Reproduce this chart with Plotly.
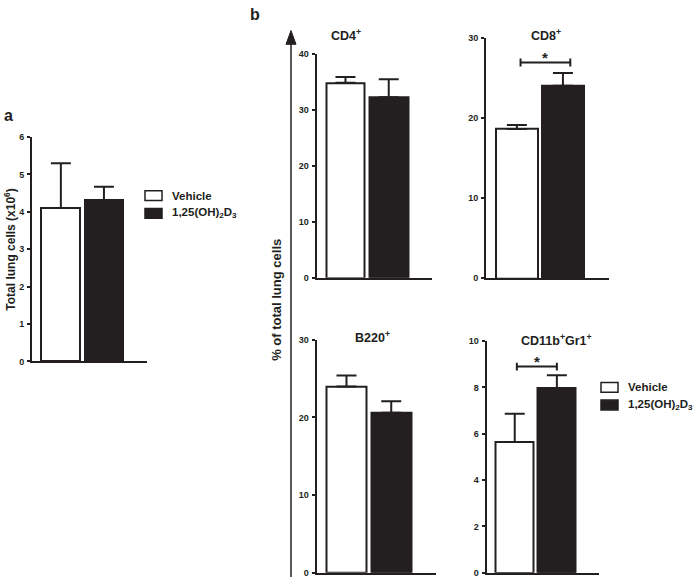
import plotly.graph_objects as go

# ---------------- data ----------------
groups = ["Vehicle", "1,25(OH)<sub>2</sub>D<sub>3</sub>"]

total_cells_mean = [4.10, 4.31]
total_cells_err = [1.20, 0.36]

panel_titles = ["CD4<sup>+</sup>", "CD8<sup>+</sup>", "B220<sup>+</sup>", "CD11b<sup>+</sup>Gr1<sup>+</sup>"]
cd4_mean = [34.9, 32.3]
cd4_err = [1.0, 3.2]
cd8_mean = [18.6, 24.0]
cd8_err = [0.5, 1.6]
b220_mean = [24.0, 20.6]
b220_err = [1.4, 1.5]
cd11b_mean = [5.64, 7.96]
cd11b_err = [1.22, 0.57]

sig_cd8 = 26.9
sig_cd11b = 8.9

W, H = 697, 582
INK = "#231f20"
FONT = "Liberation Sans, Arial, sans-serif"


def px(x):
    return x / W


def py(y):
    return 1 - y / H


fig = go.Figure()

# panel geometry in pixels: (x_left, x_right, y_top, y_bottom, ymax, dtick)
panels = [
    (32, 147, 134.3, 362.7, 6, 1, total_cells_mean, total_cells_err),
    (316.5, 432, 50, 277.5, 40, 10, cd4_mean, cd4_err),
    (486, 609, 33.3, 278, 30, 10, cd8_mean, cd8_err),
    (316.5, 436, 340.7, 577.7, 30, 10, b220_mean, b220_err),
    (486.5, 599, 342, 577.7, 10, 2, cd11b_mean, cd11b_err),
]

fills = ["white", INK]
xpos = [0, 1]

for i, (xl, xr, yt, yb, ymax, dt, means, errs) in enumerate(panels):
    k = "" if i == 0 else str(i + 1)
    for j in range(2):
        fig.add_trace(go.Bar(
            x=[xpos[j]], y=[means[j]], width=0.9,
            marker=dict(color=fills[j], line=dict(color=INK, width=2)),
            error_y=dict(type="data", symmetric=False, array=[errs[j]], arrayminus=[0],
                         color=INK, thickness=2, width=10),
            xaxis="x" + k, yaxis="y" + k, showlegend=False, name=groups[j],
            hoverinfo="skip",
        ))
    fig.update_layout(**{
        "xaxis" + k: dict(domain=[px(xl), px(xr)], range=[-0.67, 2.0], anchor="y" + k,
                          showline=True, linecolor=INK, linewidth=2, showgrid=False,
                          zeroline=False, showticklabels=False, ticks=""),
        "yaxis" + k: dict(domain=[py(yb), py(yt)], range=[0, ymax], anchor="x" + k,
                          showline=True, linecolor=INK, linewidth=2, showgrid=False,
                          zeroline=False, ticks="outside", ticklen=3, tickwidth=1.5,
                          tickcolor=INK, dtick=dt, tick0=0, ticklabelstandoff=1,
                          tickfont=dict(family=FONT, size=9, color=INK, weight="bold")),
    })

annotations = []
shapes = []

# panel titles
title_pos = [(346, 31), (546, 31), (372, 338), (556, 341)]
for t, (x, y) in zip(panel_titles, title_pos):
    annotations.append(dict(x=px(x), y=py(y), xref="paper", yref="paper", text=t,
                            showarrow=False, font=dict(family=FONT, size=12.5, color=INK, weight="bold"),
                            xanchor="center", yanchor="middle"))

# panel letters
annotations.append(dict(x=px(2), y=py(112), xref="paper", yref="paper", text="a", showarrow=False,
                        font=dict(family=FONT, size=16, color=INK, weight="bold"),
                        xanchor="left", yanchor="middle"))
annotations.append(dict(x=px(248), y=py(10), xref="paper", yref="paper", text="b", showarrow=False,
                        font=dict(family=FONT, size=16, color=INK, weight="bold"),
                        xanchor="left", yanchor="middle"))

# axis titles
annotations.append(dict(x=px(10), y=py(249), xref="paper", yref="paper",
                        text="Total lung cells (x10<sup>6</sup>)", textangle=-90, showarrow=False,
                        font=dict(family=FONT, size=12, color=INK, weight="bold"),
                        xanchor="center", yanchor="middle"))
annotations.append(dict(x=px(277), y=py(300), xref="paper", yref="paper",
                        text="% of total lung cells", textangle=-90, showarrow=False,
                        font=dict(family=FONT, size=13, color=INK, weight="bold"),
                        xanchor="center", yanchor="middle"))

# big arrow for panel b
shapes.append(dict(type="line", xref="paper", yref="paper", x0=px(291), x1=px(291),
                   y0=py(582), y1=py(36), line=dict(color=INK, width=1.5)))
shapes.append(dict(type="path", xref="paper", yref="paper",
                   path=f"M {px(291)},{py(26)} L {px(286)},{py(40)} L {px(296)},{py(40)} Z",
                   fillcolor=INK, line=dict(color=INK, width=1)))

# significance brackets
for xa, ya, lvl, x0, x1, half in [("x3", "y3", sig_cd8, 0.08, 1.16, 0.5), ("x5", "y5", sig_cd11b, 0.05, 1.0, 0.17)]:
    shapes.append(dict(type="line", xref=xa, yref=ya, x0=x0, x1=x1, y0=lvl, y1=lvl,
                       line=dict(color=INK, width=2)))
    for xx in (x0, x1):
        shapes.append(dict(type="line", xref=xa, yref=ya, x0=xx, x1=xx, y0=lvl - half, y1=lvl + half,
                           line=dict(color=INK, width=2)))
    annotations.append(dict(x=(x0 + x1) / 2, y=lvl, xref=xa, yref=ya, text="*", showarrow=False,
                            font=dict(family=FONT, size=15, color=INK, weight="bold"),
                            xanchor="center", yanchor="bottom", yshift=-5))

# manual legends
for bx, tx, rows in [(145, 170, (194, 212)), (601, 626, (389, 407))]:
    for j in range(2):
        yc = rows[j]
        shapes.append(dict(type="rect", xref="paper", yref="paper",
                           x0=px(bx), x1=px(bx + 17), y0=py(yc + 5), y1=py(yc - 5),
                           fillcolor=fills[j], line=dict(color=INK, width=1.5)))
        annotations.append(dict(x=px(tx), y=py(yc), xref="paper", yref="paper", text=groups[j],
                                showarrow=False, font=dict(family=FONT, size=11.5, color=INK, weight="bold"),
                                xanchor="left", yanchor="middle"))

fig.update_layout(
    width=W, height=H, margin=dict(l=0, r=0, t=0, b=0),
    paper_bgcolor="white", plot_bgcolor="white",
    showlegend=False, bargap=0,
    annotations=annotations, shapes=shapes,
)

fig.write_html("out.html", config={"displayModeBar": False},
               post_script="document.body.style.margin='0px';document.body.style.overflow='hidden';")
